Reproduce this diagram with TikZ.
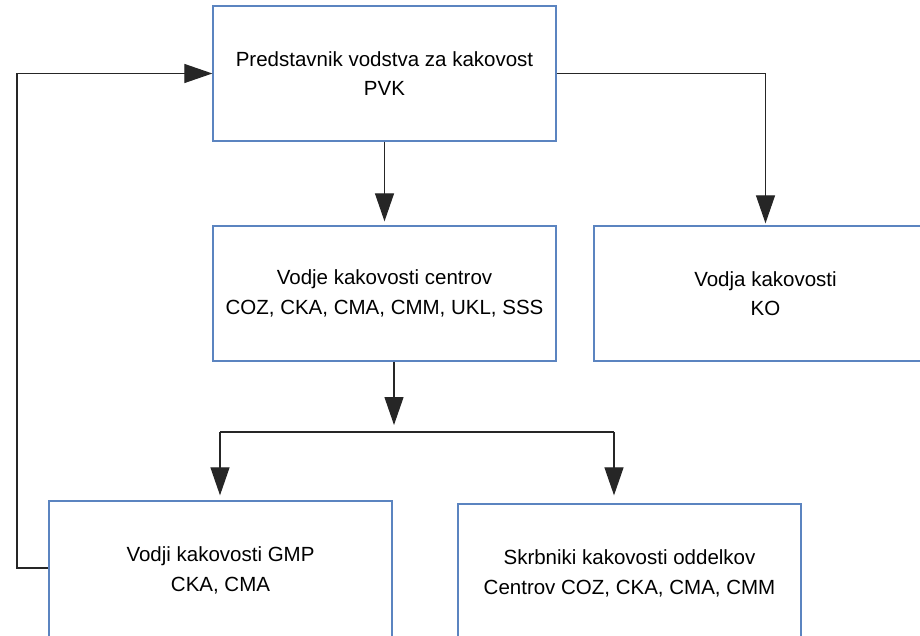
\documentclass[tikz,border=0pt]{standalone}
\usepackage{fontspec}
\setmainfont{Liberation Sans}
\usetikzlibrary{arrows.meta}
\definecolor{boxblue}{HTML}{5B84C0}
\begin{document}
\begin{tikzpicture}[x=1pt,y=-1pt,
  orgbox/.style={draw=boxblue, line width=1.3pt, fill=white, minimum width=343pt, minimum height=135pt,
    inner sep=0pt, align=center, font=\fontsize{20.5}{29.5}\selectfont},
  arr/.style={draw=black!85, line width=1.2pt, -{Triangle[length=28pt,width=19pt]}},
  ln/.style={draw=black!85, line width=1.2pt}]
\clip (0,0) rectangle (920,636);
\fill[white] (0,0) rectangle (920,636);
\node[orgbox] (pvk) at (384.5,73.5) {Predstavnik vodstva za kakovost\\PVK};
\node[orgbox] (mid) at (384.5,293.5) {Vodje kakovosti centrov\\COZ, CKA, CMA, CMM, UKL, SSS};
\node[orgbox] (ko) at (765.5,293.5) {Vodja kakovosti\\KO};
\node[orgbox, minimum height=139pt] (gmp) at (220.5,570.5) {Vodji kakovosti GMP\\CKA, CMA};
\node[orgbox, minimum height=139pt] (skrb) at (629.5,573.5) {Skrbniki kakovosti oddelkov\\Centrov COZ, CKA, CMA, CMM};
\coordinate (br) at (394,432);
\coordinate (bl) at (220,432);
\coordinate (brr) at (614,432);
\draw[arr, shorten >=4pt] (pvk.south) -- (mid.north);
\draw[arr, shorten >=2pt] (pvk.east) -| (ko.north);
\draw[arr, shorten >=7pt] (mid.south -| br) -- (br);
\draw[ln] (bl) -- (brr);
\draw[arr, shorten >=5pt] (bl) -- (gmp.north -| bl);
\draw[arr, shorten >=8pt] (brr) -- (skrb.north -| brr);
\draw[arr] (gmp.west |- 0,568) -- (17,568) |- (pvk.west);
\end{tikzpicture}
\end{document}
